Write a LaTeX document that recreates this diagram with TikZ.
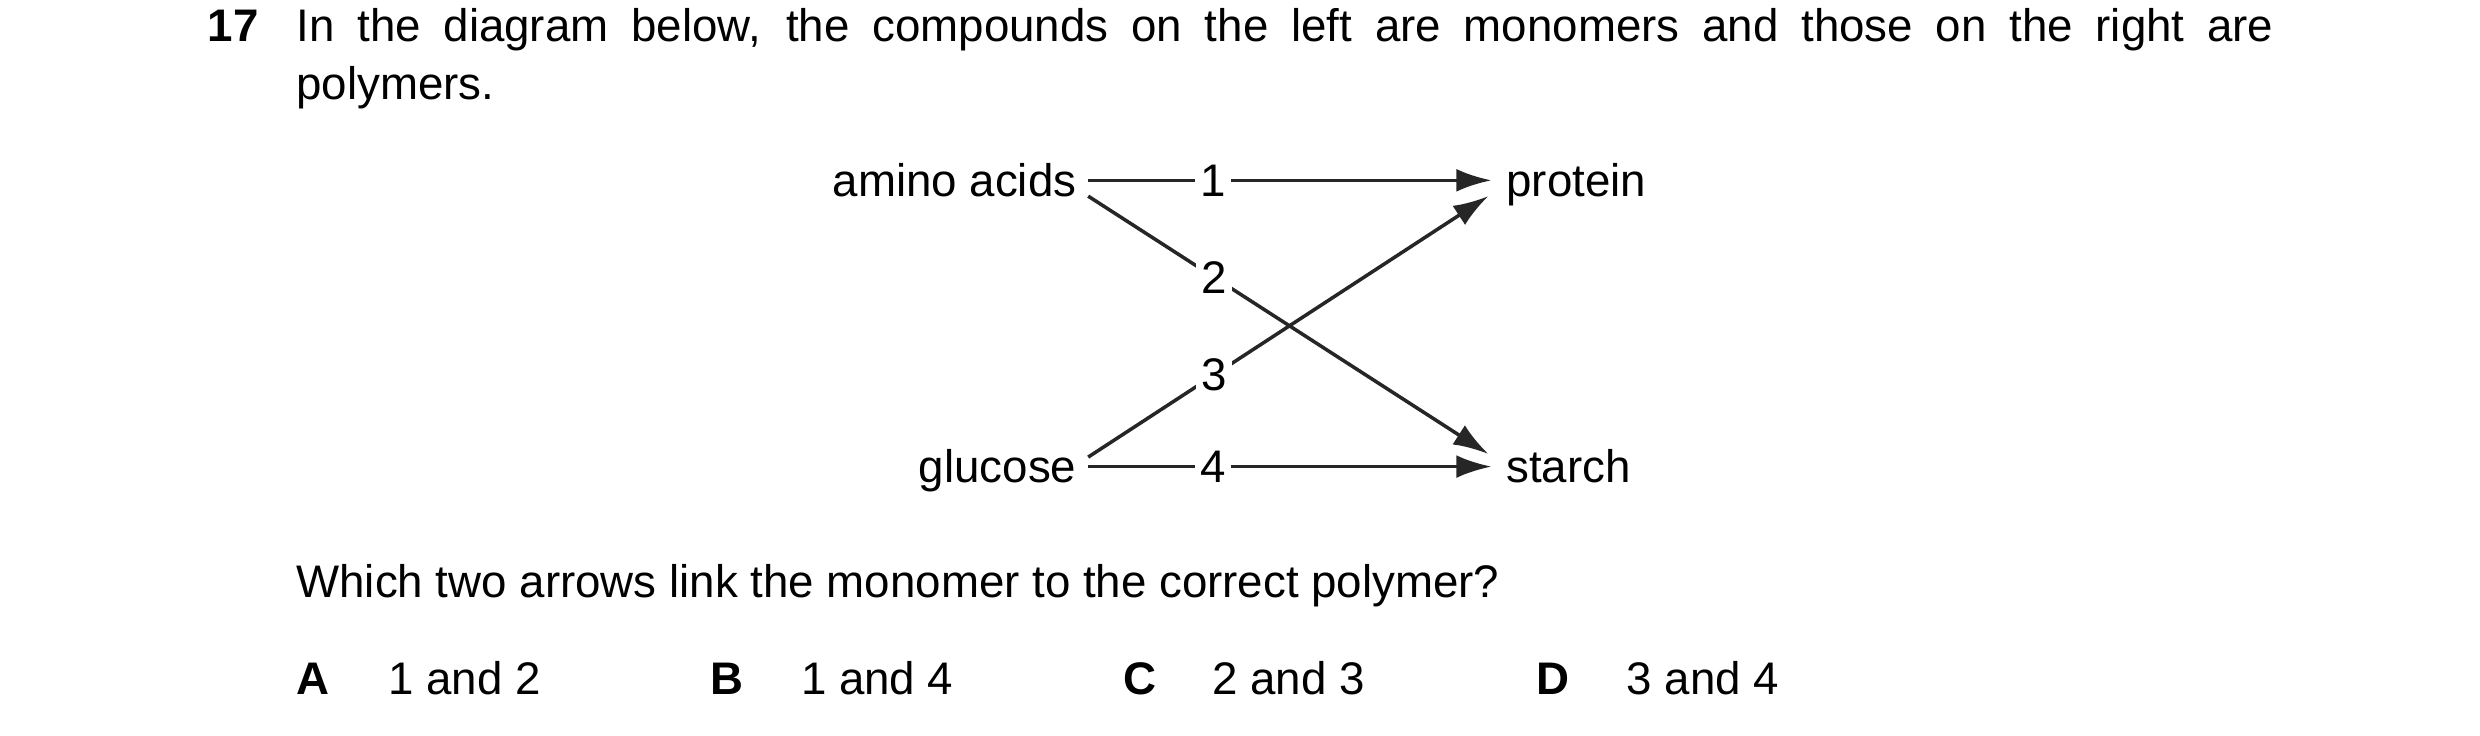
\documentclass[tikz,border=0pt]{standalone}
\usepackage{fontspec}
\setmainfont{Liberation Sans}
\usetikzlibrary{arrows.meta}
\begin{document}
\begin{tikzpicture}[x=0.01582cm,y=-0.01582cm,
  txt/.style={font=\fontsize{13}{16.5}\selectfont,inner sep=0pt},
  bld/.style={txt,font=\fontsize{13}{16.5}\selectfont\bfseries},
  con/.style={line width=1pt,draw=black!85},
  arr/.style={con,-{Latex[length=10pt,width=6.5pt]}},
  lab/.style={txt,fill=white,inner xsep=1.5pt,inner ysep=1pt}]
\useasboundingbox (0,0) rectangle (1568,465);
\node[bld,anchor=base west] (q) at (131,26) {17};
\node[txt,anchor=base west,text width=19.78cm,align=justify] (stem) at (187,26)
  {In the diagram below, the compounds on the left are monomers and those on the right are\linebreak polymers.};
\node[txt,anchor=base east] (aa) at (681,124) {amino acids};
\node[txt,anchor=base east] (gl) at (681,305) {glucose};
\node[txt,anchor=base west] (pr) at (952,124) {protein};
\node[txt,anchor=base west] (st) at (952,305) {starch};
\coordinate (aa1) at (688,114); \coordinate (aa2) at (688,124);
\coordinate (gl1) at (688,295); \coordinate (gl2) at (688,289);
\coordinate (pr1) at (943,114); \coordinate (pr2) at (941,124);
\coordinate (st1) at (943,295); \coordinate (st2) at (941,287);
\draw[arr] (aa1) -- node[lab,pos=0.31] (l1) {1} (pr1);
\draw[arr] (aa2) -- node[lab,pos=0.315] (l2) {2} (st2);
\draw[arr] (gl2) -- node[lab,pos=0.315] (l3) {3} (pr2);
\draw[arr] (gl1) -- node[lab,pos=0.31] (l4) {4} (st1);
\node[txt,anchor=base west] (which) at (187,378) {Which two arrows link the monomer to the correct polymer?};
\node[bld,anchor=base west] (A) at (187,439) {A};
\node[txt,anchor=base west] (a) at (245,439) {1 and 2};
\node[bld,anchor=base west] (B) at (449,439) {B};
\node[txt,anchor=base west] (b) at (506,439) {1 and 4};
\node[bld,anchor=base west] (C) at (710,439) {C};
\node[txt,anchor=base west] (c) at (766,439) {2 and 3};
\node[bld,anchor=base west] (D) at (971,439) {D};
\node[txt,anchor=base west] (d) at (1028,439) {3 and 4};
\end{tikzpicture}
\end{document}
